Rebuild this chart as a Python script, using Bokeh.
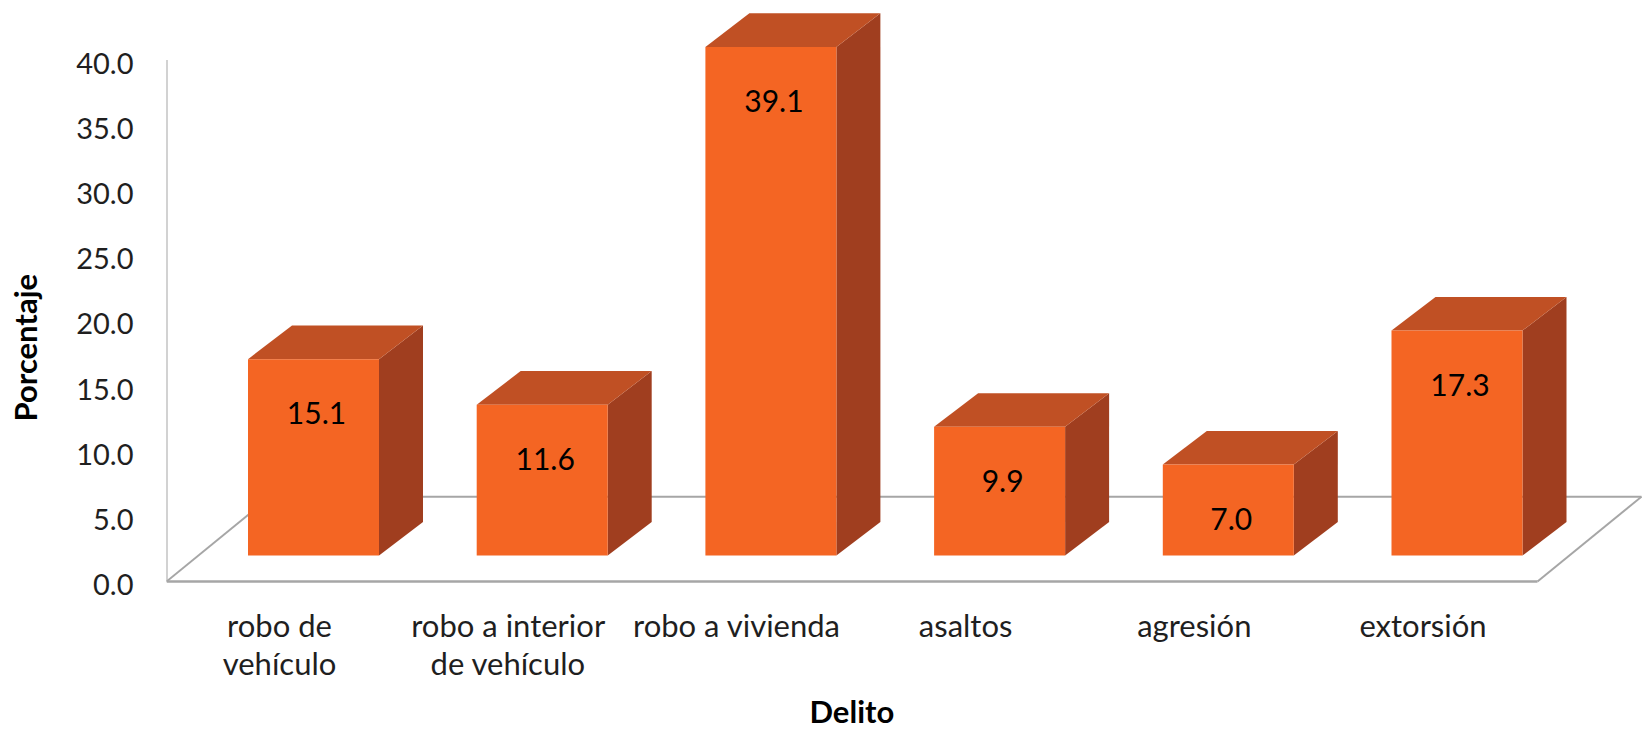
from bokeh.plotting import figure
from bokeh.models import Range1d, LinearAxis, FixedTicker, Title, NumeralTickFormatter
from bokeh.core.properties import value
from bokeh.embed import file_html
from bokeh.resources import INLINE

categories = ["robo de\nvehículo", "robo a interior\nde vehículo", "robo a vivienda", "asaltos", "agresión", "extorsión"]
values = [15.1, 11.6, 39.1, 9.9, 7.0, 17.3]
y_ticks = [0, 5, 10, 15, 20, 25, 30, 35, 40]
y_title = "Porcentaje"
x_title = "Delito"

FONT = "Lato"
FRONT, TOP, SIDE, GRID = "#F46523", "#C05024", "#A03E1F", "#A6A6A6"
TXT = "#1F1F1F"

# pixel geometry of the oblique projection, converted to data units
PX_X, PX_Y = 228.7, 13.03
half = 65.5 / PX_X
dx, dy = 44 / PX_X, 33.7 / PX_Y
fdx, fdy = 104 / PX_X, 85 / PX_Y
floor_y = -26 / PX_Y
fl, fr = (166 - 313) / PX_X, (1537 - 313) / PX_X

p = figure(width=1642, height=729, output_backend="svg", toolbar_location=None,
           x_range=Range1d((166 - 313) / PX_X, (1642 - 313) / PX_X),
           y_range=Range1d((556 - 600) / PX_Y, (556 - 8) / PX_Y),
           min_border_left=166, min_border_right=0, min_border_top=8, min_border_bottom=129,
           outline_line_color=None, background_fill_color="white")
p.grid.visible = False
p.xaxis.visible = False
p.yaxis.visible = False

p.extra_y_ranges = {"lab": Range1d((585 - 600) / 13.05, (585 - 8) / 13.05)}
p.extra_x_ranges = {"lab": Range1d((166 - 279) / PX_X, (1642 - 279) / PX_X)}

ya = LinearAxis(y_range_name="lab", ticker=FixedTicker(ticks=y_ticks),
                formatter=NumeralTickFormatter(format="0.0"))
ya.axis_line_color = None
ya.major_tick_line_color = None
ya.minor_tick_line_color = None
ya.major_label_standoff = 27
ya.major_label_text_font = FONT
ya.major_label_text_font_size = "29px"
ya.major_label_text_color = TXT
p.add_layout(ya, "left")

xa = LinearAxis(x_range_name="lab", ticker=FixedTicker(ticks=list(range(len(categories)))),
                major_label_overrides={i: c for i, c in enumerate(categories)})
xa.axis_line_color = None
xa.major_tick_line_color = None
xa.minor_tick_line_color = None
xa.major_label_standoff = 0
xa.major_label_text_font = FONT
xa.major_label_text_font_size = "31px"
xa.major_label_text_line_height = 1.0
xa.major_label_text_color = TXT
p.add_layout(xa, "below")

# floor and wall
p.line([fl, fl], [floor_y, floor_y + 40.1], line_color=GRID, line_width=2)
p.line([fl, fr], [floor_y, floor_y], line_color=GRID, line_width=2.5)
p.line([fl, fl + fdx], [floor_y, floor_y + fdy], line_color=GRID, line_width=2)
p.line([fr, fr + fdx], [floor_y, floor_y + fdy], line_color=GRID, line_width=2)
p.line([fl + fdx, fr + fdx], [floor_y + fdy, floor_y + fdy], line_color=GRID, line_width=2)

xs = list(range(len(values)))
side_x = [[i + half, i + half + dx, i + half + dx, i + half] for i in xs]
side_y = [[0, dy, v + dy, v] for v in values]
top_x = [[i - half, i - half + dx, i + half + dx, i + half] for i in xs]
top_y = [[v, v + dy, v + dy, v] for v in values]
p.patches(side_x, side_y, fill_color=SIDE, line_color=None)
p.patches(top_x, top_y, fill_color=TOP, line_color=None)
p.quad(left=[i - half for i in xs], right=[i + half for i in xs], bottom=[0] * len(xs), top=values,
       fill_color=FRONT, line_color=None)

p.text(xs, values, text=[f"{v:.1f}" for v in values], x_offset=3, y_offset=54,
       text_align="center", text_baseline="middle", text_font=value(FONT),
       text_font_size="30px", text_color="#000000")

# thin spacers push the two titles out towards the page edges
p.add_layout(Title(text=" ", text_font_size="1px", standoff=2), "below")
p.add_layout(Title(text=" ", text_font_size="1px", standoff=20), "left")
p.add_layout(Title(text=x_title, align="left", offset=643, standoff=0, vertical_align="bottom",
                   text_font=FONT, text_font_size="31px", text_font_style="bold",
                   text_color="#000000"), "below")
p.add_layout(Title(text=y_title, align="left", offset=178, standoff=10, vertical_align="top",
                   text_font=FONT, text_font_size="31px", text_font_style="bold",
                   text_color="#000000"), "left")

open("out.html", "w").write(file_html(p, INLINE))
